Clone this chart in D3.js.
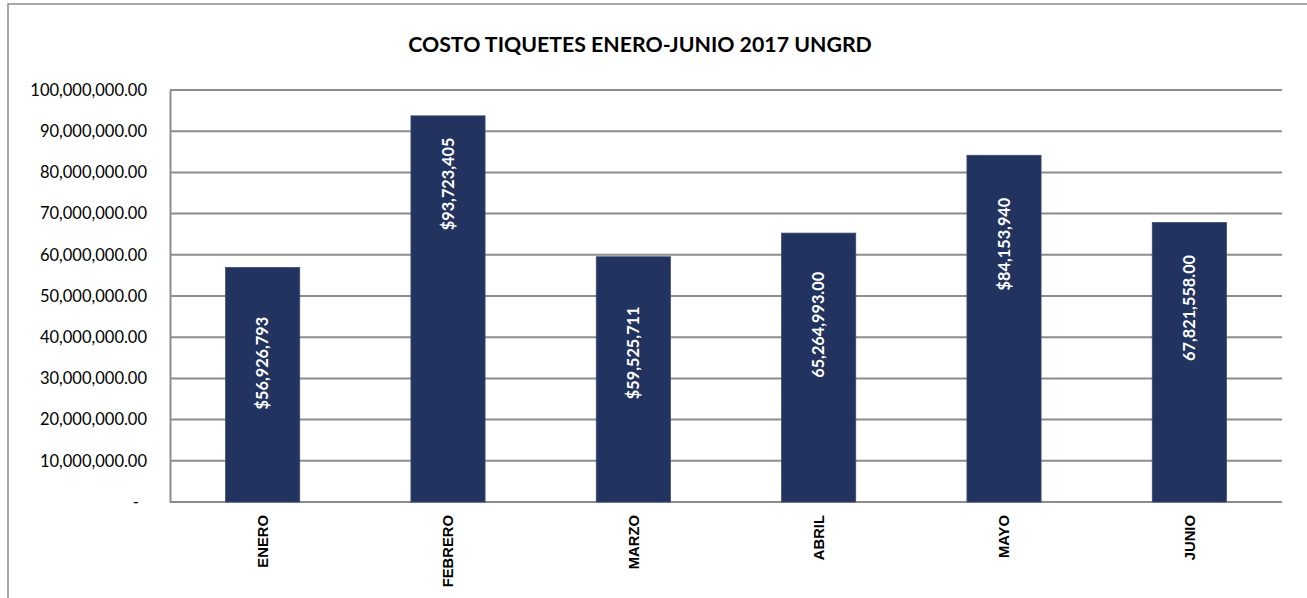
<!DOCTYPE html>
<html>
<head>
<meta charset="utf-8">
<script src="https://cdn.jsdelivr.net/npm/d3@7"></script>
<style>
  body { margin: 0; background: #fff; }
  svg { display: block; }
</style>
</head>
<body>
<div class="graph"></div>
<script>
// data
var months = ["ENERO", "FEBRERO", "MARZO", "ABRIL", "MAYO", "JUNIO"];
var costs = [56926793, 93723405, 59525711, 65264993, 84153940, 67821558];
var costLabels = ["$56,926,793", "$93,723,405", "$59,525,711", "65,264,993.00", "$84,153,940", "67,821,558.00"];
// where each data label sits, in value units (labels were hand-placed)
var labelAt = [33700000, 77200000, 36200000, 43000000, 62600000, 47100000];
var yTicks = [0, 10000000, 20000000, 30000000, 40000000, 50000000, 60000000, 70000000, 80000000, 90000000, 100000000];
var title = "COSTO TIQUETES ENERO-JUNIO 2017 UNGRD";

var bar_color = "#22335f";
var grid_color = "#8c8c8c";

function createGraph() {
    var svgWidth = 1307, svgHeight = 598;
    var plot = {left: 170, right: 1282, top: 90, bottom: 502};

    var svg = d3.select("div.graph").append("svg")
        .attr("width", svgWidth)
        .attr("height", svgHeight);

    // outer chart frame (only top/left visible)
    svg.append("rect")
        .attr("x", 8).attr("y", 4)
        .attr("width", 1400).attr("height", 700)
        .attr("fill", "none")
        .attr("stroke", "#8a8a8a")
        .attr("stroke-width", 1.5);

    svg.append("text")
        .attr("x", 640)
        .attr("y", 52)
        .attr("text-anchor", "middle")
        .attr("font-family", "Lato, 'Open Sans', sans-serif")
        .attr("font-weight", "bold")
        .attr("font-size", 21.3)
        .attr("fill", "#000")
        .text(title);

    var x = d3.scaleBand()
        .domain(months)
        .range([plot.left, plot.right])
        .paddingInner(0.6)
        .paddingOuter(0.3);

    var y = d3.scaleLinear()
        .domain([0, 100000000])
        .range([plot.bottom, plot.top]);

    // gridlines
    svg.append("g")
        .selectAll("line")
        .data(yTicks)
        .enter().append("line")
        .attr("x1", plot.left)
        .attr("x2", plot.right)
        .attr("y1", function (d) { return y(d); })
        .attr("y2", function (d) { return y(d); })
        .attr("stroke", grid_color)
        .attr("stroke-width", 2);

    // y axis
    var yAxis = svg.append("g")
        .attr("transform", "translate(" + plot.left + ",0)")
        .call(d3.axisLeft(y)
            .tickValues(yTicks)
            .tickSize(0)
            .tickPadding(23)
            .tickFormat(function (d) { return d === 0 ? "-" : d3.format(",.2f")(d); }));
    yAxis.select(".domain")
        .attr("stroke", grid_color)
        .attr("stroke-width", 2);
    yAxis.selectAll("text")
        .attr("font-family", "Lato, 'Open Sans', sans-serif")
        .attr("font-size", 16.5)
        .attr("fill", "#000")
        .attr("dx", function (d) { return d === 0 ? -8 : 0; });

    // bars
    svg.append("g")
        .selectAll("rect")
        .data(costs)
        .enter().append("rect")
        .attr("x", function (d, i) { return x(months[i]); })
        .attr("y", function (d) { return y(d); })
        .attr("width", x.bandwidth())
        .attr("height", function (d) { return y(0) - y(d); })
        .attr("fill", bar_color)
        .attr("stroke", "#3d4b74")
        .attr("stroke-width", 0.8);

    // value labels, rotated
    svg.append("g")
        .selectAll("text")
        .data(costLabels)
        .enter().append("text")
        .attr("transform", function (d, i) {
            return "translate(" + (x(months[i]) + x.bandwidth() / 2) + "," + y(labelAt[i]) + ") rotate(-90)";
        })
        .attr("text-anchor", "middle")
        .attr("dy", "0.35em")
        .attr("font-family", "Lato, 'Open Sans', sans-serif")
        .attr("font-weight", "bold")
        .attr("font-size", 16.3)
        .attr("fill", "#fff")
        .text(function (d) { return d; });

    // x axis labels, rotated
    svg.append("g")
        .selectAll("text")
        .data(months)
        .enter().append("text")
        .attr("transform", function (d) {
            return "translate(" + (x(d) + x.bandwidth() / 2) + "," + (plot.bottom + 13) + ") rotate(-90)";
        })
        .attr("text-anchor", "end")
        .attr("dy", "0.35em")
        .attr("font-family", "'Liberation Sans', Arial, sans-serif")
        .attr("font-weight", "bold")
        .attr("font-size", 14.8)
        .attr("fill", "#000")
        .text(function (d) { return d; });
}

createGraph();
</script>
</body>
</html>
